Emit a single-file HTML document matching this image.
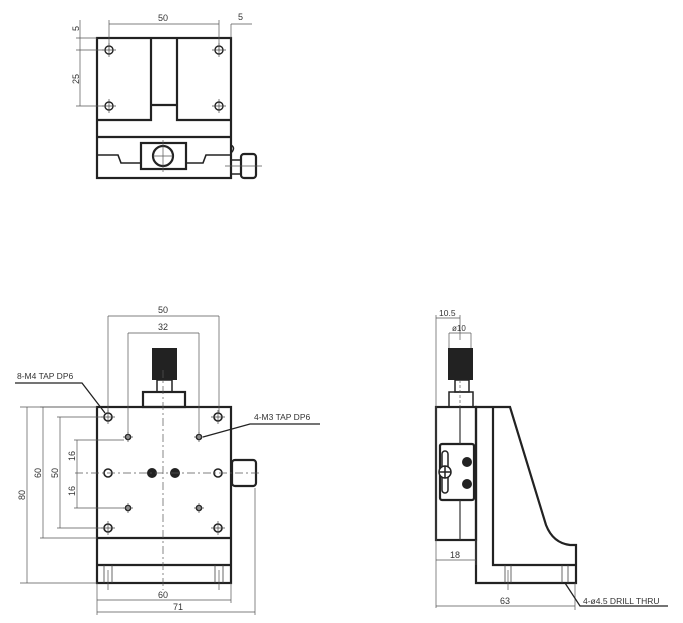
<!DOCTYPE html>
<html><head><meta charset="utf-8"><style>
html,body{margin:0;padding:0;background:#fff;}
svg{display:block;}
text{font-family:"Liberation Sans",sans-serif;fill:#333;}
</style></head><body>
<svg width="683" height="623" viewBox="0 0 683 623" xmlns="http://www.w3.org/2000/svg">
<defs>
<g id="x4"><path d="M-7 0 H7 M0 -7 V7" stroke="#444" stroke-width="0.7"/></g>
<g id="x3"><path d="M-5 0 H5 M0 -5 V5" stroke="#444" stroke-width="0.7"/></g>
</defs>
<g fill="none" stroke="#222" stroke-width="2.2">
<!-- TOP VIEW -->
<rect x="97" y="38" width="134" height="140"/>
<path d="M97 120 H151 V38 M177 38 V120 H231 M151 105 H177 M97 137 H231"/>
<path d="M97 155 H118 L121 163 H141 M186 163 H203 L206 155 H231" stroke-width="1.6"/>
<rect x="141" y="143" width="45" height="26"/>
<circle cx="163" cy="156" r="10"/>
<rect x="241" y="154" width="15" height="24" rx="3"/>
<rect x="231" y="160" width="10" height="14" stroke-width="1.5"/>
<path d="M231 145 q5 3 0 8" stroke-width="1.5"/>
</g>
<g fill="none" stroke="#222" stroke-width="1.4">
<circle cx="109" cy="50" r="4"/><circle cx="219" cy="50" r="4"/>
<circle cx="109" cy="106" r="4"/><circle cx="219" cy="106" r="4"/>
</g>
<use href="#x4" x="109" y="50"/><use href="#x4" x="219" y="50"/>
<use href="#x4" x="109" y="106"/><use href="#x4" x="219" y="106"/>
<g stroke="#555" stroke-width="0.7" fill="none">
<path d="M109 20 V50 M219 20 V50 M109 24 H219 M231 24 V38 M231 24 H252"/>
<path d="M80 20 V106 M76 38 H97 M76 50 H105 M76 106 H105"/>
<path d="M163 140 V172 M153 156 H173 M225 166 H262"/>
</g>
<text x="158" y="21" font-size="9">50</text>
<text x="238" y="20" font-size="9">5</text>
<text font-size="9" transform="translate(79,31) rotate(-90)">5</text>
<text font-size="9" transform="translate(79,84) rotate(-90)">25</text>

<!-- FRONT VIEW -->
<g fill="none" stroke="#222" stroke-width="2.2">
<rect x="97" y="407" width="134" height="176"/>
<path d="M97 538 H231 M97 565 H231"/>
<rect x="143" y="392" width="42" height="15"/>
<rect x="157" y="380" width="15" height="12" stroke-width="1.5"/>
<rect x="232" y="460" width="24" height="26" rx="3"/>
</g>
<rect x="152" y="348" width="25" height="32" fill="#222"/>
<g stroke="#444" stroke-width="0.8" fill="none">
<path d="M104 565 V583 M112 565 V583 M215 565 V583 M223 565 V583"/>
</g>
<g fill="none" stroke="#222" stroke-width="1.6">
<circle cx="108" cy="417" r="4"/><circle cx="218" cy="417" r="4"/>
<circle cx="108" cy="473" r="4"/><circle cx="218" cy="473" r="4"/>
<circle cx="108" cy="528" r="4"/><circle cx="218" cy="528" r="4"/>
<circle cx="128" cy="437" r="2.5"/><circle cx="199" cy="437" r="2.5"/>
<circle cx="128" cy="508" r="2.5"/><circle cx="199" cy="508" r="2.5"/>
</g>
<use href="#x4" x="108" y="417"/><use href="#x4" x="218" y="417"/>
<use href="#x4" x="108" y="528"/><use href="#x4" x="218" y="528"/>
<use href="#x3" x="128" y="437"/><use href="#x3" x="199" y="437"/>
<use href="#x3" x="128" y="508"/><use href="#x3" x="199" y="508"/>
<circle cx="152" cy="473" r="5" fill="#222"/><circle cx="175" cy="473" r="5" fill="#222"/>
<g stroke="#555" stroke-width="0.7" fill="none">
<path d="M163 370 V590" stroke-dasharray="8 3 2 3"/>
<path d="M75 473 H262" stroke-dasharray="8 3 2 3"/>
<path d="M108 316 V413 M219 316 V413 M108 316 H219"/>
<path d="M128 333 V433 M199 333 V433 M128 333 H199"/>
<path d="M20 407 H97 M27 407 V583 M20 583 H97"/>
<path d="M40 407 H97 M43 407 V538 M40 538 H97"/>
<path d="M57 417 H104 M60 417 V528 M57 528 H104"/>
<path d="M74 440 H124 M77 440 V508 M74 508 H124"/>
<path d="M97 583 V615 M231 583 V603 M255 488 V615 M97 600 H231 M97 612 H255"/>
<path d="M108 570 V590 M219 570 V590"/>
</g>
<g stroke="#222" stroke-width="1.3" fill="none">
<path d="M15 383 H82 L105 413"/>
<path d="M320 424 H250 L203 437"/>
</g>
<text x="158" y="313" font-size="9">50</text>
<text x="158" y="330" font-size="9">32</text>
<text x="17" y="379" font-size="8.5">8-M4 TAP DP6</text>
<text x="254" y="420" font-size="8.5">4-M3 TAP DP6</text>
<text font-size="9" transform="translate(25,500) rotate(-90)">80</text>
<text font-size="9" transform="translate(41,478) rotate(-90)">60</text>
<text font-size="9" transform="translate(58,478) rotate(-90)">50</text>
<text font-size="9" transform="translate(75,461) rotate(-90)">16</text>
<text font-size="9" transform="translate(75,496) rotate(-90)">16</text>
<text x="158" y="598" font-size="9">60</text>
<text x="173" y="610" font-size="9">71</text>

<!-- SIDE VIEW -->
<g fill="none" stroke="#222" stroke-width="2.2">
<rect x="436" y="407" width="40" height="133"/>
<path d="M476 407 H510 L546 525 Q553 543 570 545 H576 V583 H476 Z"/>
<path d="M493 407 V565 H576"/>
<rect x="440" y="444" width="34" height="56" rx="2"/>
<rect x="449" y="392" width="24" height="15" stroke-width="1.5"/>
<rect x="455" y="380" width="14" height="12" stroke-width="1.5"/>
</g>
<rect x="448" y="348" width="25" height="32" fill="#222"/>
<path d="M460 407 V444 M460 500 V540" stroke="#333" stroke-width="1.2"/>
<g fill="none" stroke="#222" stroke-width="1.5">
<rect x="442" y="451" width="6" height="42" rx="3"/>
<circle cx="445" cy="472" r="6" fill="#fff"/>
<path d="M439 472 H451 M445 466 V478"/>
</g>
<circle cx="467" cy="462" r="5" fill="#222"/><circle cx="467" cy="484" r="5" fill="#222"/>
<g stroke="#444" stroke-width="0.8" fill="none">
<path d="M505 565 V583 M511 565 V583 M562 565 V583 M568 565 V583"/>
</g>
<g stroke="#555" stroke-width="0.7" fill="none">
<path d="M460 380 V407" stroke-dasharray="3 2"/>
<path d="M436 315 V608 M460 315 V340 M436 318 H460"/>
<path d="M449 333 V348 M471 333 V348 M449 333 H471"/>
<path d="M436 560 H476 M476 540 V565"/>
<path d="M436 606 H575 M575 583 V610 M508 570 V590"/>
</g>
<path d="M565 583 L580 606 H668" stroke="#222" stroke-width="1.3" fill="none"/>
<text x="439" y="316" font-size="8.5">10.5</text>
<text x="452" y="331" font-size="8">ø10</text>
<text x="450" y="558" font-size="9">18</text>
<text x="500" y="604" font-size="9">63</text>
<text x="583" y="604" font-size="8.5">4-ø4.5 DRILL THRU</text>
</svg>
</body></html>
